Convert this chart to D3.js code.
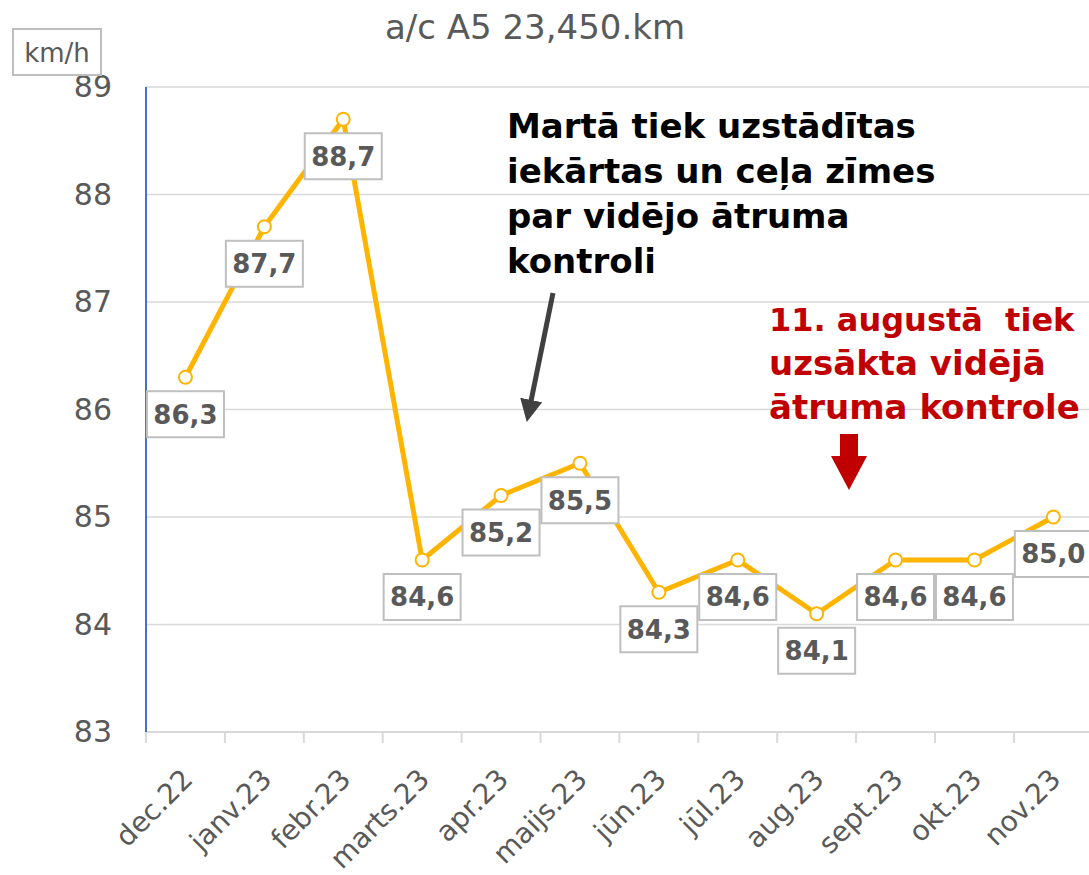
<!DOCTYPE html>
<html>
<head>
<meta charset="utf-8">
<script src="https://cdn.jsdelivr.net/npm/d3@7"></script>
<style>
  body { margin: 0; background: #fff; }
  text { font-family: "DejaVu Sans", sans-serif; }
</style>
</head>
<body>
<div id="chart"></div>
<script>
// data
const months = ["dec.22", "janv.23", "febr.23", "marts.23", "apr.23", "maijs.23",
                "jūn.23", "jūl.23", "aug.23", "sept.23", "okt.23", "nov.23"];
const speeds = [86.3, 87.7, 88.7, 84.6, 85.2, 85.5, 84.3, 84.6, 84.1, 84.6, 84.6, 85.0];
const yTicks = [83, 84, 85, 86, 87, 88, 89];
const titleText = "a/c A5 23,450.km";
const unitText = "km/h";
const noteBlack = ["Martā tiek uzstādītas", "iekārtas un ceļa zīmes", "par vidējo ātruma", "kontroli"];
const noteRed = ["11. augustā  tiek", "uzsākta vidējā", "ātruma kontrole"];

// set the dimensions and margins of the graph
const W = 1089, H = 875;
const margin = {top: 87, left: 146, bottom: 143};
const plotW = 12 * 78.9;

const svg = d3.select("#chart")
  .append("svg")
    .attr("width", W)
    .attr("height", H);

const x = d3.scaleBand()
  .domain(months)
  .range([margin.left, margin.left + plotW]);

const y = d3.scaleLinear()
  .domain([83, 89])
  .range([H - margin.bottom, margin.top]);

const cx = d => x(d) + x.bandwidth() / 2;

// grid lines
svg.append("g")
  .selectAll("line")
  .data(yTicks.slice(1))
  .join("line")
    .attr("x1", margin.left)
    .attr("x2", W)
    .attr("y1", d => y(d))
    .attr("y2", d => y(d))
    .attr("stroke", "#d9d9d9")
    .attr("stroke-width", 1.5);

// Y axis labels
const yAxis = svg.append("g")
  .attr("transform", `translate(${margin.left},0)`)
  .call(d3.axisLeft(y).tickValues(yTicks).tickSize(0).tickPadding(34).tickFormat(d3.format("d")));
yAxis.select(".domain").remove();
yAxis.selectAll("text")
  .attr("font-family", "DejaVu Sans")
  .attr("font-size", "30px")
  .attr("fill", "#595959");

// x axis line + ticks at band boundaries
svg.append("line")
  .attr("x1", margin.left).attr("x2", W)
  .attr("y1", y(83)).attr("y2", y(83))
  .attr("stroke", "#d9d9d9").attr("stroke-width", 2);

svg.append("g")
  .selectAll("line")
  .data(months)
  .join("line")
    .attr("x1", d => x(d)).attr("x2", d => x(d))
    .attr("y1", y(83)).attr("y2", y(83) + 11)
    .attr("stroke", "#d9d9d9").attr("stroke-width", 2);

svg.append("g")
  .selectAll("text")
  .data(months)
  .join("text")
    .attr("transform", d => `translate(${cx(d) + 9},${y(83) + 49}) rotate(-45)`)
    .attr("text-anchor", "end")
    .attr("font-size", "28px")
    .attr("fill", "#595959")
    .text(d => d);

// y axis line (blue)
svg.append("line")
  .attr("x1", margin.left).attr("x2", margin.left)
  .attr("y1", y(89)).attr("y2", y(83))
  .attr("stroke", "#4472c4").attr("stroke-width", 2);

// title and unit box
svg.append("text")
  .attr("x", 535).attr("y", 39)
  .attr("text-anchor", "middle")
  .attr("font-size", "34px")
  .attr("fill", "#595959")
  .text(titleText);

svg.append("rect")
  .attr("x", 13).attr("y", 29).attr("width", 88).attr("height", 46)
  .attr("fill", "#fff").attr("stroke", "#bfbfbf").attr("stroke-width", 2);
svg.append("text")
  .attr("x", 57).attr("y", 62)
  .attr("text-anchor", "middle")
  .attr("font-size", "26px")
  .attr("fill", "#595959")
  .text(unitText);

// line
const line = d3.line()
  .x((d, i) => cx(months[i]))
  .y(d => y(d));

svg.append("path")
  .datum(speeds)
  .attr("fill", "none")
  .attr("stroke", "#ffb400")
  .attr("stroke-width", 5)
  .attr("stroke-linejoin", "round")
  .attr("d", line);

svg.append("g")
  .selectAll("circle")
  .data(speeds)
  .join("circle")
    .attr("cx", (d, i) => cx(months[i]))
    .attr("cy", d => y(d))
    .attr("r", 6.5)
    .attr("fill", "#fff")
    .attr("stroke", "#ffb400")
    .attr("stroke-width", 2);

// data labels in boxes
const fmt = d => d.toFixed(1).replace(".", ",");
const labels = svg.append("g")
  .selectAll("g")
  .data(speeds)
  .join("g")
    .attr("transform", (d, i) => `translate(${cx(months[i])},${y(d) + 37})`);
labels.append("rect")
  .attr("x", -38.5).attr("y", -23).attr("width", 77).attr("height", 46)
  .attr("fill", "#fff").attr("stroke", "#bfbfbf").attr("stroke-width", 2);
labels.append("text")
  .attr("text-anchor", "middle")
  .attr("dy", "0.36em")
  .attr("font-size", "26px")
  .attr("font-weight", "bold")
  .attr("fill", "#595959")
  .text(fmt);

// annotation: black note + arrow
svg.append("text")
  .attr("font-size", "34px")
  .attr("font-weight", "bold")
  .attr("fill", "#000")
  .selectAll("tspan")
  .data(noteBlack)
  .join("tspan")
    .attr("x", 507)
    .attr("y", (d, i) => 138 + i * 45)
    .text(d => d);

svg.append("defs").append("marker")
  .attr("id", "head")
  .attr("viewBox", "0 0 10 10")
  .attr("refX", 5).attr("refY", 5)
  .attr("markerWidth", 4.5).attr("markerHeight", 4.5)
  .attr("orient", "auto")
  .append("path")
    .attr("d", "M0,0 L10,5 L0,10 Z")
    .attr("fill", "#404040");

svg.append("line")
  .attr("x1", 553).attr("y1", 293)
  .attr("x2", 529).attr("y2", 411)
  .attr("stroke", "#404040")
  .attr("stroke-width", 5)
  .attr("marker-end", "url(#head)");

// annotation: red note + block arrow
svg.append("text")
  .attr("font-weight", "bold")
  .attr("fill", "#c00000")
  .style("white-space", "pre")
  .selectAll("tspan")
  .data(noteRed)
  .join("tspan")
    .attr("x", 769)
    .attr("y", (d, i) => 331 + i * 44)
    .attr("font-size", (d, i) => i === 0 ? "32px" : "34px")
    .text(d => d);

svg.append("path")
  .attr("d", "M840,434 L858,434 L858,456 L867,456 L849,490 L831,456 L840,456 Z")
  .attr("fill", "#c00000");
</script>
</body>
</html>
